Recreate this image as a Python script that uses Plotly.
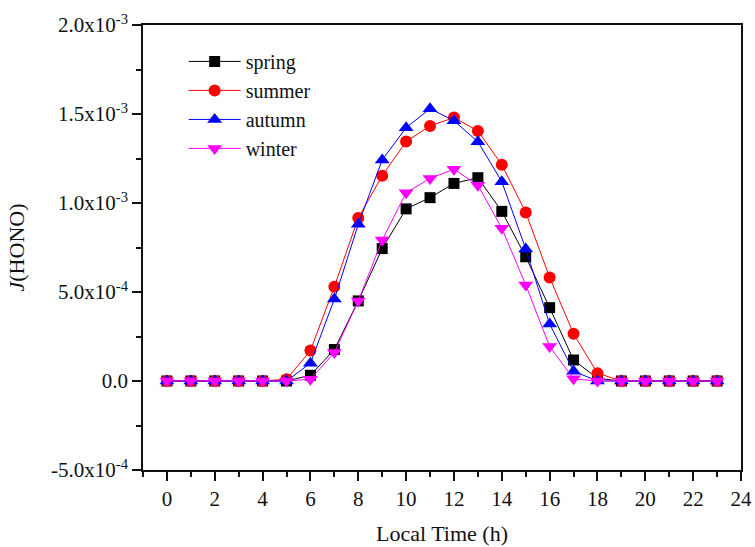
import plotly.graph_objects as go

hours = list(range(24))
spring = [0, 0, 0, 0, 0, 0, 3.2e-5, 1.77e-4, 4.5e-4, 7.44e-4, 9.67e-4, 1.03e-3,
          1.11e-3, 1.142e-3, 9.53e-4, 6.98e-4, 4.12e-4, 1.18e-4, 1.5e-5, 0, 0, 0, 0, 0]
summer = [0, 0, 0, 0, 0, 1e-5, 1.71e-4, 5.30e-4, 9.16e-4, 1.153e-3, 1.345e-3, 1.433e-3,
          1.48e-3, 1.405e-3, 1.215e-3, 9.47e-4, 5.82e-4, 2.65e-4, 4.4e-5, 0, 0, 0, 0, 0]
autumn = [0, 0, 0, 0, 0, 0, 1.0e-4, 4.6e-4, 8.8e-4, 1.242e-3, 1.423e-3, 1.53e-3,
          1.462e-3, 1.344e-3, 1.12e-3, 7.42e-4, 3.2e-4, 5.5e-5, 0, 0, 0, 0, 0, 0]
winter = [0, 0, 0, 0, 0, 0, 1e-5, 1.6e-4, 4.5e-4, 7.92e-4, 1.058e-3, 1.138e-3,
          1.19e-3, 1.10e-3, 8.58e-4, 5.4e-4, 1.94e-4, 1.2e-5, 0, 0, 0, 0, 0, 0]

series = [
    ("spring", spring, "#000000", "square", 11),
    ("summer", summer, "#FF0000", "circle", 12),
    ("autumn", autumn, "#0000FF", "triangle-up", 13),
    ("winter", winter, "#FF00FF", "triangle-down", 13),
]

ytick_vals = [-5e-4, 0, 5e-4, 1e-3, 1.5e-3, 2e-3]
ytick_text = ["-5.0x10<sup>-4</sup>", "0.0", "5.0x10<sup>-4</sup>",
              "1.0x10<sup>-3</sup>", "1.5x10<sup>-3</sup>", "2.0x10<sup>-3</sup>"]
xtick_vals = list(range(0, 25, 2))

fig = go.Figure()
for name, vals, color, sym, size in series:
    fig.add_trace(go.Scatter(
        x=hours, y=vals, name=name, mode="lines+markers",
        line=dict(color=color, width=1),
        marker=dict(symbol=sym, size=size, color=color, line=dict(width=0)),
    ))

font = "Liberation Serif, Times New Roman, serif"
fig.update_layout(
    width=755, height=547,
    margin=dict(l=143, r=14, t=25, b=77),
    paper_bgcolor="white", plot_bgcolor="white",
    font=dict(family=font, size=21, color="#111111"),
    showlegend=True,
    legend=dict(x=0.068, y=0.962, xanchor="left", yanchor="top",
                bgcolor="rgba(0,0,0,0)", font=dict(size=20, family=font),
                tracegroupgap=0, itemwidth=52),
    xaxis=dict(
        range=[-1, 24], tickvals=xtick_vals, ticks="outside", ticklen=9, tickwidth=1.5,
        tickcolor="#111111", showline=True, linecolor="#111111", linewidth=1.5,
        mirror=True, showgrid=False, zeroline=False, automargin=False,
        minor=dict(dtick=1, tick0=0, ticks="outside", ticklen=5, tickwidth=1.5,
                   tickcolor="#111111", showgrid=False),
        title=dict(text="Local Time (h)", font=dict(size=22, family=font), standoff=16),
        tickfont=dict(size=21, family=font),
    ),
    yaxis=dict(
        range=[-5e-4, 2e-3], tickvals=ytick_vals, ticktext=ytick_text,
        ticks="outside", ticklen=9, tickwidth=1.5, tickcolor="#111111",
        showline=True, linecolor="#111111", linewidth=1.5, mirror=True,
        showgrid=False, zeroline=False, automargin=False,
        minor=dict(tickvals=[-2.5e-4, 2.5e-4, 7.5e-4, 1.25e-3, 1.75e-3],
                   ticks="outside", ticklen=5, tickwidth=1.5, tickcolor="#111111",
                   showgrid=False),
        title=dict(text="<i>J</i>(HONO)", font=dict(size=22, family=font), standoff=20),
        tickfont=dict(size=21, family=font),
    ),
)

fig.write_html("out.html")
